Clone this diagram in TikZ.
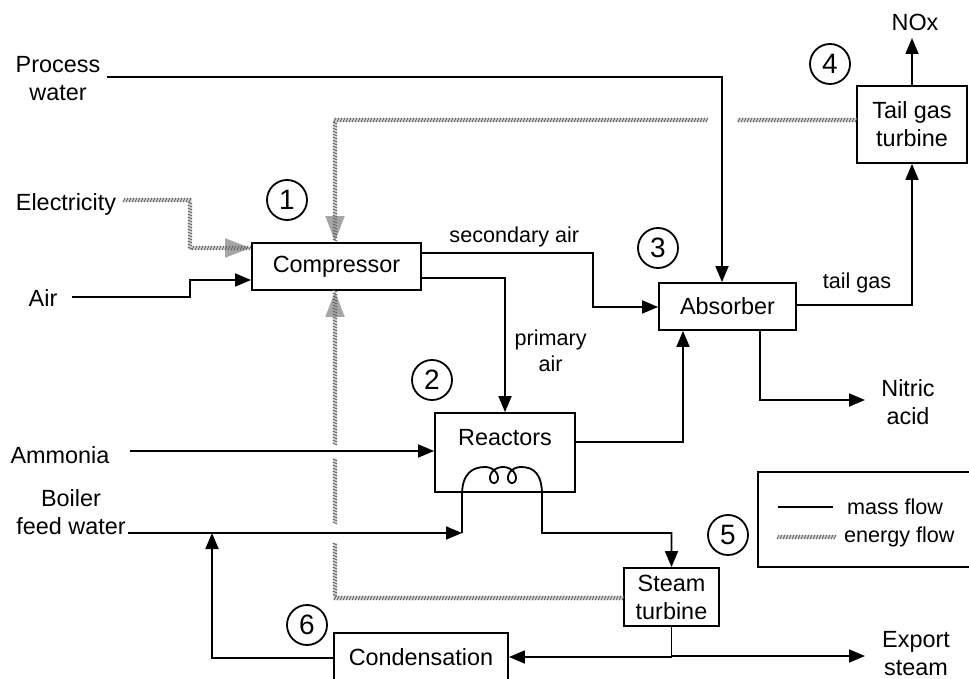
\documentclass[tikz,border=0pt]{standalone}
\usepackage{fontspec}
\setmainfont{Liberation Sans}
\usetikzlibrary{arrows.meta, positioning}
\usetikzlibrary{decorations.markings}

\begin{document}
\begin{tikzpicture}[x=0.5pt, y=-0.5pt,
    font=\fontsize{11.7}{14}\selectfont,
    unit/.style={rectangle, draw, line width=0.9pt, inner sep=0pt, align=center},
    stage/.style={circle, draw, line width=0.9pt, minimum size=20pt, inner sep=0pt, font=\fontsize{14}{16}\selectfont},
    txt/.style={align=center},
    lbl/.style={font=\fontsize{10.8}{13}\selectfont, align=center},
    flow/.style={line width=0.9pt, -{Triangle[length=8pt, width=6.5pt]}},
    pipe/.style={line width=0.9pt},
    energy/.style={draw=gray!30, line width=2.4pt, postaction={decorate, decoration={markings,
        mark=between positions 0 and 1 step 1.5pt with {\draw[-, gray!75!black, line width=0.45pt] (-0.5pt,-1.1pt) -- (0.5pt,1.1pt);}}}},
    energyflow/.style={energy, -{Triangle[length=13pt, width=9pt, color=gray!70]}}
]
    \useasboundingbox (0,0) rectangle (969,679);
    \clip (0,0) rectangle (969,679);

    % Process units
    \node[unit, minimum width=84.5pt, minimum height=23.5pt] (comp) at (336.5,266.5) {Compressor};
    \node[unit, minimum width=70pt, minimum height=39.5pt] (reac) at (505,452.5) {};
    \node (reactxt) at (505,438) {Reactors};
    \node[unit, minimum width=68.5pt, minimum height=23.5pt] (absb) at (727.5,306.5) {Absorber};
    \node[unit, minimum width=55pt, minimum height=38.5pt] (tgt) at (912,124.5) {Tail gas\\turbine};
    \node[unit, minimum width=47.5pt, minimum height=29pt] (stur) at (671.5,597) {Steam\\turbine};
    \node[unit, minimum width=87pt, minimum height=24pt] (cond) at (421,657) {Condensation};

    % Stage numbers
    \node[stage] (s1) at (287,200) {1};
    \node[stage] (s2) at (432,380) {2};
    \node[stage] (s3) at (658,248) {3};
    \node[stage] (s4) at (830,64) {4};
    \node[stage] (s5) at (728,535) {5};
    \node[stage] (s6) at (307,625) {6};

    % Feeds and products
    \node[txt] (pwtxt) at (58,79) {Process\\water};
    \node[txt] (eltxt) at (66,204) {Electricity};
    \node[txt] (airtxt) at (43,298) {Air};
    \node[txt] (nh3txt) at (60,455) {Ammonia};
    \node[txt] (bfwtxt) at (71,512) {Boiler\\feed water};
    \node[txt] (noxtxt) at (915,22) {NOx};
    \node[txt] (hno3txt) at (908,402) {Nitric\\acid};
    \node[txt] (exptxt) at (916,654) {Export\\steam};
    \node[lbl] (tailtxt) at (857,283) {tail gas};

    \coordinate (pwin) at (107,77);
    \coordinate (elin) at (124,200);
    \coordinate (airin) at (72,297);
    \coordinate (nh3in) at (130,451);
    \coordinate (bfwin) at (128,533);
    \coordinate (coilin) at (462,533);
    \coordinate (bfwjoin) at (212,533);
    \coordinate (noxout) at (912,38);
    \coordinate (hno3out) at (865,400);
    \coordinate (expout) at (865,656);

    % Mass flows
    \draw[flow] (pwin) -| (absb.north -| 722,0);
    \draw[flow] (airin) -| (190,280) -- (comp.west |- 0,280);
    \draw[flow] (comp.east |- 0,253) -| node[lbl, pos=0.27, above=-1pt] {secondary air} (593,307) -- (absb.west |- 0,307);
    \draw[flow] (comp.east |- 0,278) -| node[lbl, pos=0.77, right=1pt] {primary\\air} (reac.north);
    \draw[flow] (reac.east |- 0,442) -| (absb.south -| 683,0);
    \draw[flow] (nh3in) -- (reac.west |- 0,451);
    \draw[flow] (bfwin) -- (coilin);
    \draw[flow] (coilin) -- (462,495) .. controls (462,474) and (472,467) .. (485,467)
        -- plot[domain=pi:5*pi, samples=60, variable=\t] ({476+2.86*\t-8*sin(\t r)}, {475+8*cos(\t r)})
        .. controls (534,467) and (542,474) .. (542,495) -- (542,533) -| (stur.north);
    \draw[flow] (cond.west |- 0,658) -| (bfwjoin);
    \draw[flow] (stur.south) |- (cond.east);
    \draw[flow] (stur.south) |- (expout);
    \draw[flow] (absb.east |- 0,305) -| (tgt.south);
    \draw[flow] (tgt.north) -- (noxout);
    \draw[flow] (absb.south -| 760,0) |- (hno3out);

    % Energy flows
    \draw[energyflow] (elin) -| (190,248) -- (comp.west |- 0,248);
    \draw[energy] (tgt.west |- 0,120) -- (737,120);
    \draw[energyflow] (707,120) -| (comp.north -| 335,0);
    \draw[energy] (stur.west |- 0,598) -| (335,543);
    \draw[energy] (335,523) -- (335,458);
    \draw[energyflow] (335,444) -- (comp.south -| 335,0);

    % Legend
    \draw[line width=0.9pt] (758,472) rectangle (1000,567);
    \coordinate (mass0) at (778,507);
    \coordinate (mass1) at (833,507);
    \coordinate (ener0) at (778,537);
    \coordinate (ener1) at (835,537);
    \draw[pipe] (mass0) -- (mass1);
    \draw[energy, line width=1.6pt] (ener0) -- (ener1);
    \node[lbl, anchor=west] (masstxt) at (840,507) {mass flow};
    \node[lbl, anchor=west] (enertxt) at (837,537) {energy flow};
\end{tikzpicture}
\end{document}
